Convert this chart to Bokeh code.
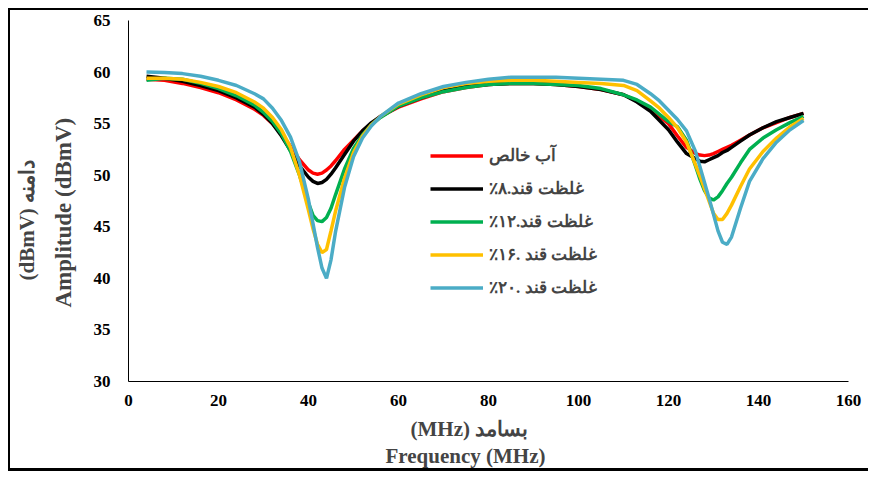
from bokeh.plotting import figure
from bokeh.models import Range1d, FixedTicker, Legend, LegendItem, Title
from bokeh.embed import file_html
from bokeh.resources import INLINE

freq = [4, 8, 12, 16, 20, 24, 28, 30, 32, 34, 36, 38, 40, 41, 42, 43, 44, 45, 46, 48, 50, 52, 54, 56,
        60, 65, 70, 75, 80, 85, 90, 95, 100, 105, 110, 113, 116, 118, 120, 122, 124, 126, 127, 128,
        129, 130, 131, 132, 133, 134, 136, 138, 141, 144, 147, 150]

pure_water = [59.3, 59.2, 58.9, 58.5, 58.0, 57.3, 56.4, 55.8, 55.0, 54.0, 52.8, 51.5, 50.5, 50.2, 50.1, 50.2,
              50.5, 50.9, 51.4, 52.5, 53.4, 54.3, 55.0, 55.7,
              56.6, 57.4, 58.1, 58.5, 58.8, 58.9, 58.9, 58.8, 58.6, 58.3, 57.8, 57.2, 56.4, 55.7, 55.0, 53.8,
              52.7, 52.1, 51.95, 51.9, 51.95, 52.1, 52.3, 52.5, 52.7, 52.9, 53.4, 53.9, 54.6, 55.1, 55.6, 56.0]
sugar_8 = [59.6, 59.4, 59.1, 58.7, 58.2, 57.5, 56.6, 55.9, 55.0, 53.8, 52.4, 50.9, 49.8, 49.4, 49.2, 49.3,
           49.6, 50.1, 50.7, 52.0, 53.3, 54.3, 55.1, 55.7,
           56.7, 57.5, 58.2, 58.6, 58.8, 58.9, 58.9, 58.8, 58.6, 58.3, 57.8, 57.1, 56.2, 55.3, 54.4, 53.2,
           52.1, 51.6, 51.35, 51.3, 51.5, 51.7, 51.9, 52.2, 52.4, 52.7, 53.3, 53.9, 54.6, 55.2, 55.6, 56.0]
sugar_12 = [59.2, 59.4, 59.3, 58.9, 58.4, 57.7, 56.8, 56.1, 55.2, 54.0, 52.3, 50.0, 47.3, 46.1, 45.6, 45.5,
            45.9, 46.8, 48.1, 50.6, 52.6, 53.9, 54.9, 55.6,
            56.7, 57.5, 58.1, 58.5, 58.8, 58.9, 58.9, 58.8, 58.7, 58.4, 57.8, 57.3, 56.6, 55.9, 55.2, 54.7,
            53.4, 50.9, 49.6, 48.5, 47.8, 47.6, 47.9, 48.5, 49.2, 49.8, 51.2, 52.5, 53.6, 54.4, 55.1, 55.7]
sugar_16 = [59.4, 59.4, 59.3, 59.0, 58.6, 58.0, 57.1, 56.5, 55.6, 54.4, 52.7, 50.0, 46.6, 44.8, 43.3, 42.5,
            42.8, 44.6, 46.5, 49.7, 52.2, 53.8, 54.9, 55.7,
            56.9, 57.8, 58.5, 58.9, 59.1, 59.2, 59.2, 59.1, 59.0, 58.9, 58.7, 58.2, 57.2, 56.5, 55.6, 54.6,
            53.2, 51.0, 49.9, 48.7, 47.5, 46.3, 45.7, 45.7, 46.3, 47.1, 48.9, 50.6, 52.3, 53.6, 54.7, 55.5]
sugar_20 = [60.0, 59.95, 59.85, 59.6, 59.2, 58.7, 57.9, 57.4, 56.5, 55.3, 53.7, 51.3, 47.6, 45.3, 43.0, 41.0,
            40.0, 41.8, 44.5, 48.8, 51.8, 53.6, 54.8, 55.7,
            57.0, 57.9, 58.6, 59.0, 59.3, 59.5, 59.5, 59.5, 59.4, 59.3, 59.2, 58.8, 57.9, 57.2, 56.3, 55.4,
            54.3, 52.3, 50.8, 49.3, 47.8, 46.2, 44.6, 43.5, 43.3, 44.0, 46.8, 49.4, 51.6, 53.2, 54.4, 55.3]

series = [pure_water, sugar_8, sugar_12, sugar_16, sugar_20]
RLM = "\u200f"
labels = ["آب خالص", "غلظت قند.۸٪" + RLM, "غلظت قند.۱۲٪" + RLM, "غلظت قند .۱۶٪" + RLM, "غلظت قند .۲۰٪" + RLM]
colors = ["#FF0000", "#000000", "#00B050", "#FFC000", "#4BACC6"]
x_ticks = [0, 20, 40, 60, 80, 100, 120, 140, 160]
y_ticks = [30, 35, 40, 45, 50, 55, 60, 65]

FONT = "Liberation Serif"

p = figure(width=860, height=463, output_backend="svg", toolbar_location=None,
           x_range=Range1d(0, 160), y_range=Range1d(30, 65),
           min_border_left=118, min_border_right=22, min_border_top=10, min_border_bottom=92)
p.styles = {"margin-left": "8px", "margin-top": "8px",
            "border-left": "2px solid black", "border-top": "2px solid black",
            "border-bottom": "3px solid black"}
p.grid.visible = False
p.outline_line_color = None

for ax in (p.xaxis[0], p.yaxis[0]):
    ax.axis_line_color = "black"
    ax.axis_line_width = 1
    ax.major_tick_line_color = None
    ax.minor_tick_line_color = None
    ax.major_label_text_font = FONT
    ax.major_label_text_font_style = "bold"
    ax.major_label_text_font_size = "17px"
    ax.major_label_text_color = "black"
p.xaxis[0].major_label_standoff = 7
p.yaxis[0].major_label_standoff = 12
p.xaxis[0].ticker = FixedTicker(ticks=x_ticks)
p.yaxis[0].ticker = FixedTicker(ticks=y_ticks)

items = []
for vals, lab, col in zip(series, labels, colors):
    r = p.line(freq, vals, line_color=col, line_width=3.5)
    items.append(LegendItem(label=lab, renderers=[r]))

legend = Legend(items=items, location=(302, 83), glyph_width=53, glyph_height=21, spacing=12,
                padding=5, margin=0, label_standoff=6, border_line_color=None,
                background_fill_alpha=0, label_text_font=FONT, label_text_font_style="bold",
                label_text_font_size="17px")
p.add_layout(legend, "center")

p.add_layout(Title(text="Amplitude (dBmV)", align="left", offset=74, text_font=FONT,
                   text_font_style="bold", text_font_size="23px", standoff=29), "left")
p.add_layout(Title(text="(dBmV) دامنه", align="left", offset=101, text_font=FONT,
                   text_font_style="bold", text_font_size="21px", standoff=-9), "left")
p.add_layout(Title(text="(MHz) بسامد", align="left", offset=282, text_font=FONT,
                   text_font_style="bold", text_font_size="21px", standoff=13), "below")
p.add_layout(Title(text="Frequency (MHz)", align="left", offset=257, text_font=FONT,
                   text_font_style="bold", text_font_size="21px", standoff=-11), "below")

open("out.html", "w").write(file_html(p, INLINE))
